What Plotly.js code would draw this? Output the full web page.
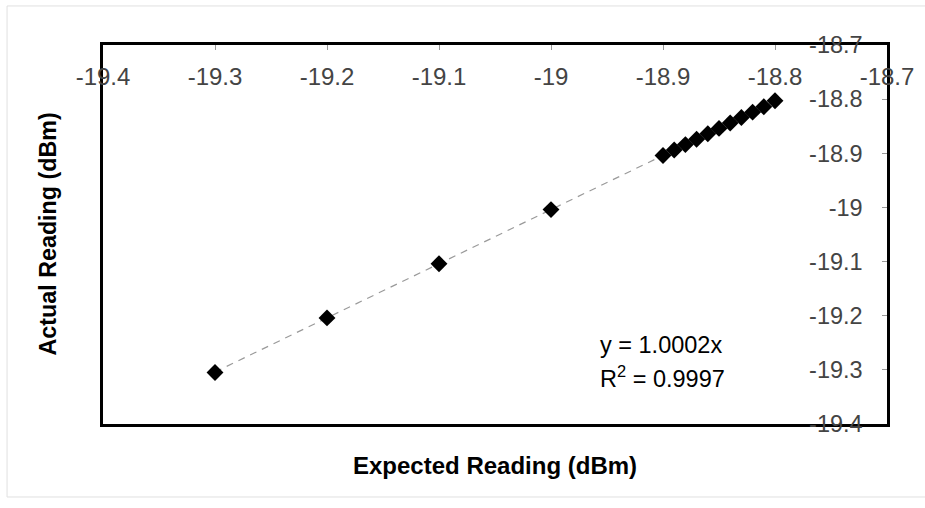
<!DOCTYPE html>
<html>
<head>
<meta charset="utf-8">
<script src="https://cdn.plot.ly/plotly-3.0.1.min.js"></script>
<style>html,body{margin:0;padding:0;background:#fff;}#chart{width:925px;height:508px;}</style>
</head>
<body>
<div id="chart"></div>
<script>
// Data
const expected = [-19.3, -19.2, -19.1, -19.0, -18.9, -18.89, -18.88, -18.87, -18.86, -18.85, -18.84, -18.83, -18.82, -18.81, -18.8];
const actual   = [-19.305, -19.204, -19.104, -19.004, -18.904, -18.894, -18.884, -18.874, -18.864, -18.854, -18.844, -18.834, -18.824, -18.814, -18.803];
const trendX = [-19.3, -18.8];
const trendY = [-19.304, -18.804];
const tickVals = [-19.4, -19.3, -19.2, -19.1, -19.0, -18.9, -18.8, -18.7];
const tickText = ['-19.4', '-19.3', '-19.2', '-19.1', '-19', '-18.9', '-18.8', '-18.7'];
const eqLine1 = 'y = 1.0002x';
const eqLine2 = 'R<sup>2</sup> = 0.9997';
const xTitle = 'Expected Reading (dBm)';
const yTitle = 'Actual Reading (dBm)';

const FONT = '"Liberation Sans", Arial, sans-serif';

const traces = [
  {
    x: trendX, y: trendY, type: 'scatter', mode: 'lines',
    line: {color: '#9a9a9a', width: 1.2, dash: '7px,6px'},
    hoverinfo: 'skip', showlegend: false
  },
  {
    x: expected, y: actual, type: 'scatter', mode: 'markers',
    marker: {symbol: 'diamond', size: 13, color: '#000'},
    showlegend: false
  }
];

const layout = {
  width: 925, height: 508,
  margin: {l: 103, r: 38, t: 45, b: 84},
  paper_bgcolor: '#fff', plot_bgcolor: '#fff',
  font: {family: FONT, color: '#000', size: 23.5},
  showlegend: false,
  xaxis: {
    range: [-19.4, -18.7], side: 'top',
    tickmode: 'array', tickvals: tickVals, ticktext: tickText,
    ticks: 'inside', ticklen: 5, tickwidth: 1, tickcolor: '#999',
    ticklabelposition: 'inside', ticklabeloverflow: 'allow',
    ticklabelstandoff: 20,
    showline: true, linecolor: '#000', linewidth: 3, mirror: true,
    showgrid: false, zeroline: false,
    tickfont: {size: 24, family: FONT}
  },
  yaxis: {
    range: [-19.4, -18.7], side: 'right',
    tickmode: 'array', tickvals: tickVals, ticktext: tickText,
    ticks: 'inside', ticklen: 5, tickwidth: 1, tickcolor: '#999',
    ticklabelposition: 'inside', ticklabeloverflow: 'allow',
    ticklabelstandoff: 21,
    showline: true, linecolor: '#000', linewidth: 3, mirror: true,
    showgrid: false, zeroline: false,
    tickfont: {size: 23.5, family: FONT}
  },
  annotations: [
    {text: eqLine1, xref: 'paper', yref: 'paper', x: 0.6314, y: 0.2084, xanchor: 'left', yanchor: 'middle', showarrow: false, font: {size: 23.5}},
    {text: eqLine2, xref: 'paper', yref: 'paper', x: 0.6314, y: 0.124, xanchor: 'left', yanchor: 'middle', showarrow: false, font: {size: 23.5}},
    {text: '<b>' + xTitle + '</b>', xref: 'paper', yref: 'paper', x: 0.5, y: -0.1108, xanchor: 'center', yanchor: 'middle', showarrow: false, font: {size: 24}},
    {text: '<b>' + yTitle + '</b>', xref: 'paper', yref: 'paper', x: -0.0714, y: 0.5, xanchor: 'center', yanchor: 'middle', textangle: -90, showarrow: false, font: {size: 23.3}}
  ],
  shapes: [
    {type: 'rect', xref: 'paper', yref: 'paper', x0: -0.1224, x1: 1.06, y0: -0.1926, y1: 1.103, line: {color: '#e0e0e0', width: 1}, layer: 'below'}
  ]
};

Plotly.newPlot('chart', traces, layout, {displayModeBar: false, staticPlot: true});
</script>
</body>
</html>
